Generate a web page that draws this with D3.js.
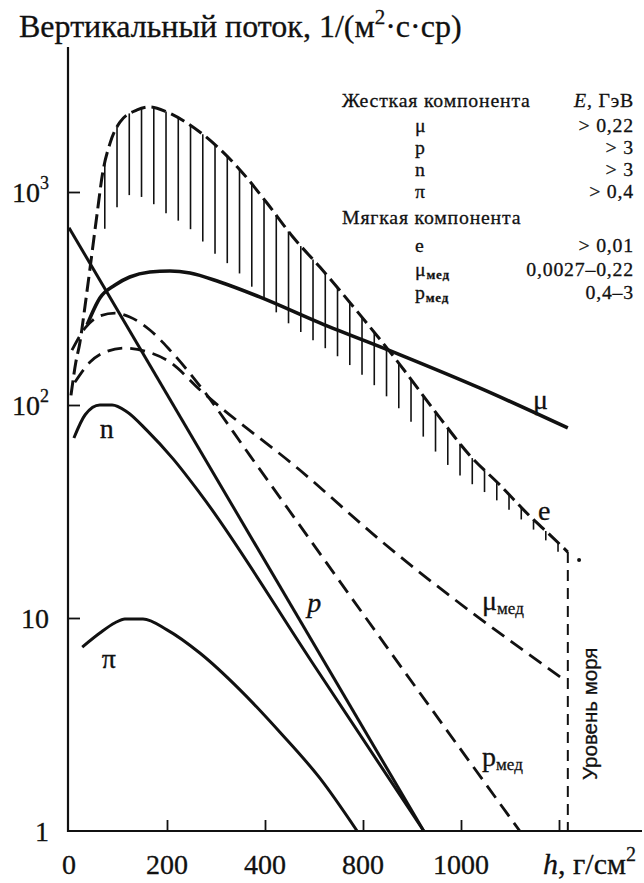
<!DOCTYPE html>
<html>
<head>
<meta charset="utf-8">
<script src="https://cdn.jsdelivr.net/npm/d3@7"></script>
<style>
  body { margin: 0; background: #fff; }
  svg { display: block; }
  .t { fill: #111; stroke: #111; stroke-width: 0.3px; }
</style>
</head>
<body>
<svg id="chart" width="644" height="883"></svg>
<script>
// Atmospheric depth h (g/cm^2) and vertical flux 1/(m^2·s·sr)
const xTickValues = [0, 200, 400, 600, 800, 1000];
const xTickLabels = ["0", "200", "400", "800", "1000"];
const yTickValues = [1, 10, 100, 1000];
const yTickBases = ["1", "10", "10", "10"];
const yTickExps = ["", "", "2", "3"];

// hard component
const muFlux = [[37, 238], [63, 318], [94, 366], [124, 399], [165, 421], [206, 426], [247, 417],
  [308, 378], [390, 321], [512, 243], [676, 172], [839, 120], [1018, 78]];
const pFlux = [[0, 680], [724, 1]];
const nFlux = [[10, 70], [33, 90], [63, 100], [88, 100], [118, 93], [159, 76], [212, 56],
  [267, 38.6], [496, 6.2], [724, 1]];
const piFlux = [[27, 7.3], [63, 8.5], [94, 9.5], [114, 9.9], [151, 9.9], [200, 8.8], [267, 6.85],
  [349, 4.6], [431, 2.9], [512, 1.77], [588, 1]];

// soft component
const eFlux = [[4, 111], [14, 159], [22, 195], [33, 295], [43, 440], [57, 780], [69, 1240],
  [84, 1700], [104, 2130], [139, 2430], [165, 2510], [200, 2375], [241, 2110], [294, 1700],
  [349, 1270], [404, 888], [457, 615], [512, 444], [594, 265], [676, 154], [757, 87],
  [818, 58], [880, 42], [941, 30], [982, 24.5], [1018, 20.4]];
// lower edge of the shaded electron band
const eBandLow = [[63, 600], [95, 830], [130, 975], [165, 900], [200, 790], [245, 678],
  [294, 523], [345, 421], [394, 318], [445, 245], [492, 206], [573, 154], [676, 95],
  [778, 51], [880, 34.7], [961, 24.5], [1012, 19.1]];
const muSoftFlux = [[12, 128], [43, 159], [73, 177], [114, 185], [155, 179], [206, 159],
  [267, 118], [471, 49.5], [635, 23.2], [1012, 5.1]];
const pSoftFlux = [[6, 181], [33, 230], [63, 262], [94, 270], [124, 259], [165, 225],
  [206, 181], [267, 123], [369, 58], [645, 7.5], [920, 1]];

const seaLevel = 1018;
const endMark = [1041, 18.7];

// curve labels: text, subscript, italic, anchor (h, flux)
const curveLabels = [
  { t: "μ", sub: "", it: false, h: 947, v: 96 },
  { t: "e", sub: "", it: false, h: 957, v: 28.9 },
  { t: "p", sub: "", it: true, h: 486, v: 10.7 },
  { t: "n", sub: "", it: false, h: 63, v: 69.7 },
  { t: "π", sub: "", it: false, h: 67, v: 5.83 },
  { t: "μ", sub: "мед", it: false, h: 843, v: 10.9 },
  { t: "p", sub: "мед", it: false, h: 843, v: 2.02 }
];

const legendHard = [["μ", "", "> 0,22"], ["p", "", "> 3"], ["n", "", "> 3"], ["π", "", "> 0,4"]];
const legendSoft = [["e", "", "> 0,01"], ["μ", "мед", "0,0027–0,22"], ["p", "мед", "0,4–3"]];

const serif = "'Liberation Serif', 'Times New Roman', serif";
const sans = "'Liberation Sans', Arial, sans-serif";

const svg = d3.select("#chart").attr("font-family", serif);
const x = d3.scaleLinear().domain([0, 1000]).range([69, 559]);
const y = d3.scaleLog().domain([1, 1000]).range([831, 192]);
const ink = "#111";

function txt(sel) { return sel.append("text").attr("class", "t"); }

// axes
svg.append("line").attr("x1", 68).attr("x2", 642).attr("y1", y(1)).attr("y2", y(1))
  .attr("stroke", ink).attr("stroke-width", 2.2);
svg.append("line").attr("x1", 68).attr("x2", 68).attr("y1", 47).attr("y2", y(1) + 1)
  .attr("stroke", ink).attr("stroke-width", 2.2);

const xAxis = svg.append("g").attr("transform", `translate(0,${y(1)})`)
  .call(d3.axisBottom(x).tickValues(xTickValues.slice(1)).tickSize(-11).tickFormat(""));
xAxis.select(".domain").remove();
xAxis.selectAll(".tick line").attr("stroke", ink).attr("stroke-width", 1.8);

const yAxis = svg.append("g").attr("transform", "translate(68,0)")
  .call(d3.axisRight(y).tickValues(yTickValues.slice(1)).tickSize(12).tickFormat(""));
yAxis.select(".domain").remove();
yAxis.selectAll(".tick line").attr("stroke", ink).attr("stroke-width", 1.8);

xTickLabels.forEach((s, i) => {
  txt(svg).attr("x", x(xTickValues[i])).attr("y", 874)
    .attr("text-anchor", "middle").attr("font-size", 28).text(s);
});
const hLab = txt(svg).attr("x", 543).attr("y", 874).attr("font-size", 30);
hLab.append("tspan").attr("font-style", "italic").text("h");
hLab.append("tspan").text(", г/см");
hLab.append("tspan").attr("font-size", 20).attr("dy", -13).text("2");

yTickValues.forEach((v, i) => {
  const t = txt(svg).attr("x", 49).attr("y", y(v) + 10)
    .attr("text-anchor", "end").attr("font-size", 28);
  t.append("tspan").text(yTickBases[i]);
  if (yTickExps[i]) t.append("tspan").attr("font-size", 18).attr("dy", -13).text(yTickExps[i]);
});

// title
const title = txt(svg).attr("x", 19).attr("y", 37).attr("font-size", 32);
title.append("tspan").text("Вертикальный поток, 1/(м");
title.append("tspan").attr("font-size", 21).attr("dy", -13).text("2");
title.append("tspan").attr("dy", 13).text("·с·ср)");

// curves
const line = d3.line().x(d => x(d[0])).y(d => y(d[1])).curve(d3.curveMonotoneX);
function curve(data, dash, w) {
  return svg.append("path").attr("d", line(data)).attr("fill", "none")
    .attr("stroke", ink).attr("stroke-width", w)
    .attr("stroke-dasharray", dash).attr("stroke-linecap", "butt")
    .attr("stroke-linejoin", "round");
}

function yOnPath(node, px) {
  let lo = 0, hi = node.getTotalLength();
  for (let i = 0; i < 40; i++) {
    const mid = (lo + hi) / 2;
    if (node.getPointAtLength(mid).x < px) lo = mid; else hi = mid;
  }
  return node.getPointAtLength((lo + hi) / 2).y;
}

// shaded band under the electron curve
const eGuide = curve(eFlux, null, 0).attr("stroke", "none").node();
const lowGuide = curve(eBandLow, null, 0).attr("stroke", "none").node();
const hatchH = d3.range(73, 1013, 25);
svg.append("g").selectAll("line").data(hatchH).join("line")
  .attr("x1", d => x(d)).attr("x2", d => x(d))
  .attr("y1", d => yOnPath(eGuide, x(d)))
  .attr("y2", d => yOnPath(lowGuide, x(d)))
  .attr("stroke", ink).attr("stroke-width", 1.6);

curve(eFlux, "15,6", 3);
curve(muSoftFlux, "15,8", 2.8);
curve(pSoftFlux, "15,8", 2.8);
curve(muFlux, null, 3.6);
curve(pFlux, null, 3);
curve(nFlux, null, 3);
curve(piFlux, null, 3);

// sea level
svg.append("line").attr("x1", x(seaLevel)).attr("x2", x(seaLevel))
  .attr("y1", y(eFlux[eFlux.length - 1][1])).attr("y2", y(1))
  .attr("stroke", ink).attr("stroke-width", 2).attr("stroke-dasharray", "11,7");
svg.append("circle").attr("cx", x(endMark[0])).attr("cy", y(endMark[1])).attr("r", 2).attr("fill", ink);
txt(svg).attr("font-family", sans).attr("font-size", 20.5)
  .attr("transform", `translate(${x(seaLevel) + 29},780) rotate(-90)`)
  .text("Уровень моря");

// curve labels
curveLabels.forEach(c => {
  const t = txt(svg).attr("x", x(c.h)).attr("y", y(c.v)).attr("font-size", 28);
  const m = t.append("tspan").text(c.t);
  if (c.it) m.attr("font-style", "italic");
  if (c.sub) t.append("tspan").attr("font-size", 17).attr("dy", 4).text(c.sub);
});

// legend
const lg = svg.append("g").attr("font-size", 19.8).attr("letter-spacing", 0.8);
txt(lg).attr("x", 342).attr("y", 107).text("Жесткая компонента");
const unit = txt(lg).attr("x", 634).attr("y", 107).attr("text-anchor", "end");
unit.append("tspan").attr("font-style", "italic").text("E");
unit.append("tspan").text(", ГэВ");
function legendRow(r, yy) {
  const t = txt(lg).attr("x", 415).attr("y", yy);
  t.append("tspan").text(r[0]);
  if (r[1]) t.append("tspan").attr("font-size", 13).attr("font-weight", "bold").attr("dy", 3).text(r[1]);
  txt(lg).attr("x", 634).attr("y", yy).attr("text-anchor", "end").text(r[2]);
}
const hardY = [132, 154, 176, 198];
legendHard.forEach((r, i) => legendRow(r, hardY[i]));
txt(lg).attr("x", 342).attr("y", 224).text("Мягкая компонента");
const softY = [252, 276, 299];
legendSoft.forEach((r, i) => legendRow(r, softY[i]));
</script>
</body>
</html>
